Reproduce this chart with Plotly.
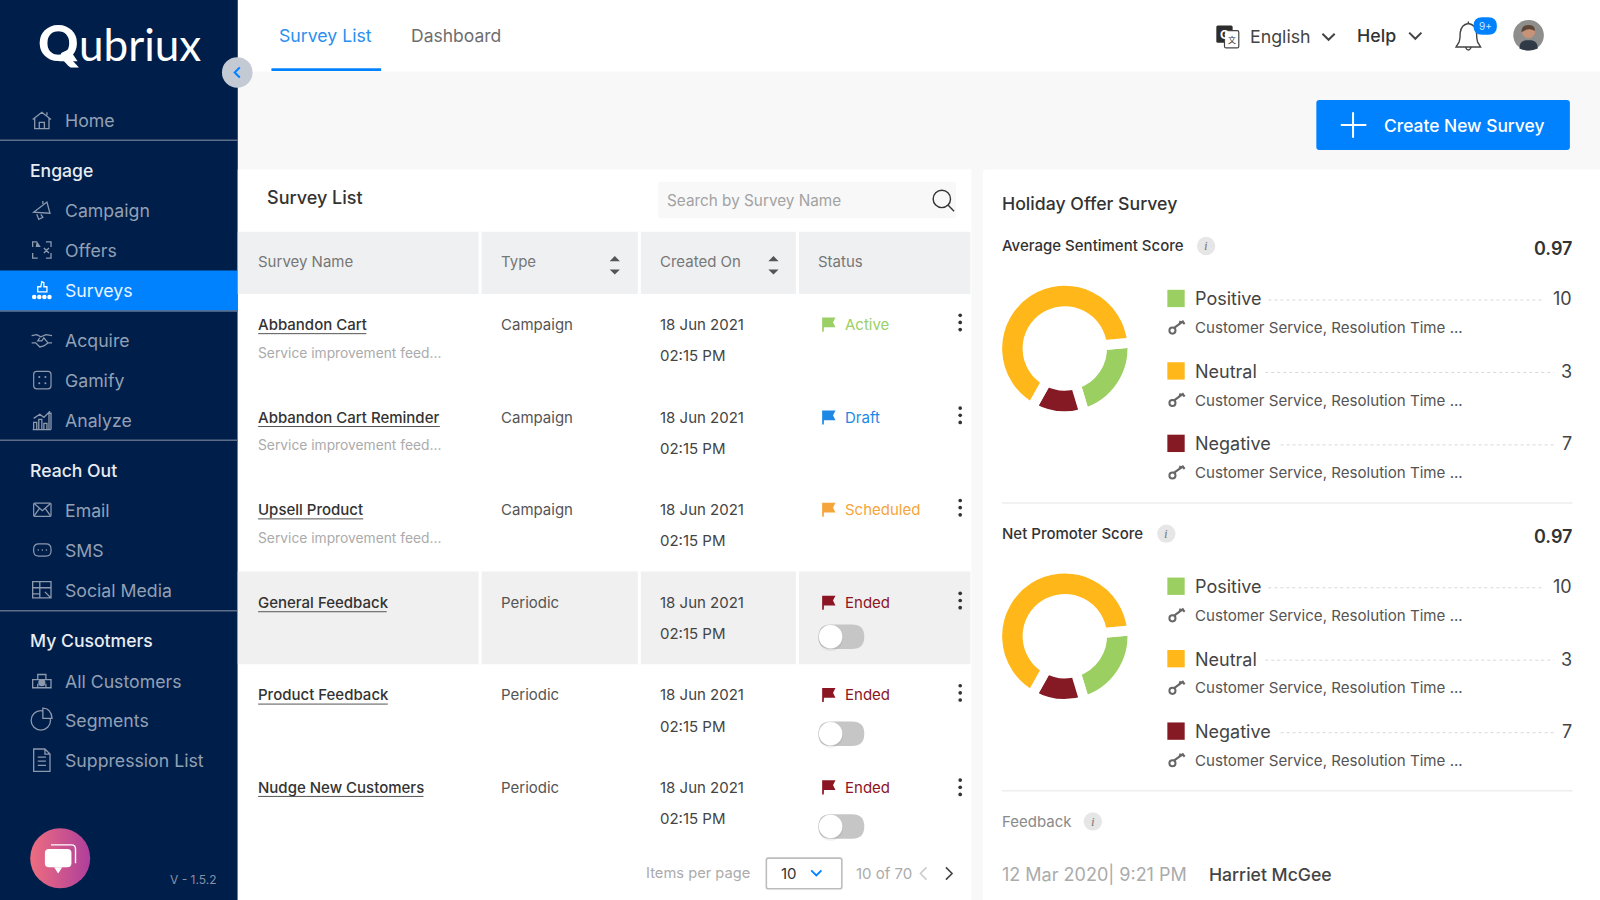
import re
import plotly.graph_objects as go

# ---------- content ----------
survey_names = ["Abbandon Cart", "Abbandon Cart Reminder", "Upsell Product", "General Feedback", "Product Feedback", "Nudge New Customers"]
survey_types = ["Campaign", "Campaign", "Campaign", "Periodic", "Periodic", "Periodic"]
survey_status = ["Active", "Draft", "Scheduled", "Ended", "Ended", "Ended"]
survey_dates = ["18 Jun 2021"] * 6
survey_times = ["02:15 PM"] * 6
sentiment_labels = ["Positive", "Neutral", "Negative"]
legend_counts = [10, 3, 7]
# slice shares as drawn in the two rings
sentiment_shares = [21.7, 65.5, 12.8]
promoter_shares = [21.7, 65.5, 12.8]
slice_colors = ["#9CCF62", "#FFB71A", "#861A24"]

FONT = "Inter"
NAVY = "#001E4A"
BLUE = "#0082FF"
shapes, notes = [], []


def t(x, y, s, size=15, color="#444", anchor="left", weight=400, font=FONT, italic=False):
    notes.append(dict(x=x, y=y, xref="x", yref="y", text=s, showarrow=False, xanchor=anchor, yanchor="middle",
                      align=anchor, font=dict(family=font, size=size, color=color, weight=weight,
                                              style="italic" if italic else "normal"),
                      borderpad=0, borderwidth=0))


def rect(x0, y0, x1, y1, fill, layer="below"):
    shapes.append(dict(type="rect", xref="x", yref="y", x0=x0, y0=y0, x1=x1, y1=y1, fillcolor=fill,
                       line=dict(width=0), layer=layer))


def line(x0, y0, x1, y1, color, width=1, dash="solid", layer="below"):
    shapes.append(dict(type="line", xref="x", yref="y", x0=x0, y0=y0, x1=x1, y1=y1,
                       line=dict(color=color, width=width, dash=dash), layer=layer))


def circle(cx, cy, r, fill, stroke=None, width=0, layer="below"):
    shapes.append(dict(type="circle", xref="x", yref="y", x0=cx - r, y0=cy - r, x1=cx + r, y1=cy + r, fillcolor=fill,
                       line=dict(width=width, color=stroke or fill), layer=layer))


def shifted(x, y, d, k=1.0):
    out, i = [], 0
    for tok in re.findall(r"[A-Za-z]|-?\d*\.?\d+", d):
        if tok.isalpha():
            out.append(tok)
        else:
            out.append(f"{(x if i % 2 == 0 else y) + float(tok) * k:.2f}")
            i += 1
    return " ".join(out)


def path(x, y, d, stroke=None, width=1.3, fill=None, k=1.0, layer="below"):
    shapes.append(dict(type="path", xref="x", yref="y", path=shifted(x, y, d, k),
                       fillcolor=fill or "rgba(0,0,0,0)",
                       line=dict(color=stroke or "rgba(0,0,0,0)", width=width if stroke else 0), layer=layer))


def rrect(x0, y0, x1, y1, r, fill=None, stroke=None, width=1, layer="below"):
    d = (f"M{x0 + r} {y0} L{x1 - r} {y0} Q{x1} {y0} {x1} {y0 + r} L{x1} {y1 - r} Q{x1} {y1} {x1 - r} {y1} "
         f"L{x0 + r} {y1} Q{x0} {y1} {x0} {y1 - r} L{x0} {y0 + r} Q{x0} {y0} {x0 + r} {y0} Z")
    shapes.append(dict(type="path", xref="x", yref="y", path=d, fillcolor=fill or "rgba(0,0,0,0)",
                       line=dict(color=stroke or "rgba(0,0,0,0)", width=width if stroke else 0), layer=layer))


# ---------- page frame ----------
rect(233, 0, 1568, 882, "#F8F8F8")
rect(233, 0, 1568, 70, "#FFFFFF")
rect(0, 0, 233, 882, NAVY)
rect(233, 166, 952, 882, "#FFFFFF")
rrect(963, 166, 1580, 900, 4, fill="#FFFFFF")

# ---------- sidebar ----------
t(77, 43.5, "ubriux", 44, "#FFFFFF", weight=400, font="Lato")
t(37, 41.5, "Q", 50, "#FFFFFF", weight=900, font="Lato")
path(60, 52, "M0 0 L8 -4 L16 8 L-2 8 Z", None, fill="#FFFFFF")
rect(0, 265, 233, 305, BLUE)
for yy in (137.5, 304.8, 431.5, 598.5):
    line(0, yy, 233, yy, "#5F6E87", 1.4)
MENU = "#93A0B4"
side_items = [("Home", 118), ("Campaign", 206), ("Offers", 245), ("Acquire", 333), ("Gamify", 372), ("Analyze", 412),
              ("Email", 500), ("SMS", 539), ("Social Media", 578), ("All Customers", 667), ("Segments", 706),
              ("Suppression List", 745)]
for name, yy in side_items:
    t(64, yy + 0.5, name, 17.7, MENU)
t(64, 285, "Surveys", 17.7, "#EAF4FF")
for name, yy in (("Engage", 167), ("Reach Out", 461), ("My Cusotmers", 627.5)):
    t(29.5, yy + 0.5, name, 17.6, "#E9ECF1", weight=500)
t(212, 861.5, "V - 1.5.2", 12, "#8592A6", anchor="right")

I = "#8D99AD"
path(41, 118, "M-9 -1 L0 -8 L9 -1 M-7 -2 L-7 8 L7 8 L7 -2 M-2.5 8 L-2.5 2 L2.5 2 L2.5 8 M5 -5 L5 -8", I)
path(41, 206, "M-8 2 L5 -8 L8 3 Z M-5 4 L-3 9 L1 7 L-1 4 M1 -9 L1 -6", I)
path(41, 245, "M-9 -3 L-9 -8 L-5 -8 M4 -8 L9 -8 L9 -3 M-9 3 L-9 8 L-4 8 M4 8 L9 8 L9 3 M2 -2 L7 3 M2 3 L7 -2", I)
path(41, 245, "M-5 -9 L-3 -6 L-1 -3 L-6 -3 Z", None, fill=I)
path(41, 284, "M-4 2 L-4 -3 L-1 -3 L0 -8 L2 -7 L2 -3 L5 -3 L5 2 Z", "#FFFFFF", 1.3)
for dx in (-7.5, -2.5, 2.5, 7.5):
    circle(41 + dx, 291, 2.2, "#FFFFFF")
path(41, 333, "M-10 -4 L-5 -5 L-1 -3 L4 -5 L10 -4 M-10 3 L-6 3 L-2 7 L2 6 L6 3 L10 3 M-2 -2 L-4 1 L0 1 L2 -2 L6 3", I)
rrect(33, 364, 50, 381, 3, stroke=I, width=1.2)
for dx, dy in ((-3, -3), (3, 3), (3, -3), (-3, 3)):
    circle(41.5 + dx, 372.5 + dy, 1, I)
path(41, 412, "M-9 9 L9 9 M-8 9 L-8 2 L-5 2 L-5 9 M-3 9 L-3 -1 L0 -1 L0 9 M2 9 L2 3 L5 3 L5 9 M7 9 L7 -7 L9 -7 L9 9 M-8 -2 L-2 -6 L2 -3 L8 -9", I)
rrect(33, 493, 50, 506, 1, stroke=I, width=1.2)
path(41.5, 499.5, "M-8 -6 L0 1 L8 -6 M-8 6 L-3 -1 M8 6 L3 -1", I)
rrect(33, 533, 50, 545, 5, stroke=I, width=1.2)
for dx in (-4, 0, 4):
    circle(41.5 + dx, 539, 0.8, I)
path(41, 578, "M-9 -8 L9 -8 L9 8 L-9 8 Z M-9 -2 L9 -2 M-2 -8 L-2 8 M3 2 L9 8 M-9 4 L-2 4", I)
path(41, 667, "M-9 7 L-9 -1 L-4 -1 L-4 -6 L4 -6 L4 -1 L9 -1 L9 7 Z M-4 -1 L4 -1 M-4 3 L-4 7 M4 3 L4 7", I)
circle(41, 669, 3.5, I)
circle(40, 706, 9.5, "rgba(0,0,0,0)", I, 1.3)
path(42, 704, "M0 0 L0 -10 Q8 -10 9 0 Z", I, fill=NAVY)
path(41, 745, "M-8 -11 L3 -11 L8 -6 L8 11 L-8 11 Z M3 -11 L3 -6 L8 -6 M-4 -3 L4 -3 M-4 1 L4 1 M-4 5 L4 5", I)

# collapse button
circle(232.5, 71, 15, "#C3CAD4")
path(232.5, 71, "M2.5 -5 L-2.5 0 L2.5 5", BLUE, 2)

# chat button bubble
path(0, 0, "M50 828 L70 828 Q74 828 74 832 L74 846", "#FFFFFF", 1.4, layer="above")
rrect(44, 832, 70, 850, 4, fill="#FFFFFF", layer="above")
path(57, 850, "M-4 0 L4 0 L0 6 Z", None, fill="#FFFFFF", layer="above")

# ---------- top bar ----------
t(273, 34.5, "Survey List", 17.7, "#2A90F0")
t(403, 34.5, "Dashboard", 17.5, "#6E6E6E")
rect(266, 67, 373.5, 69.5, BLUE)
rrect(1192, 25, 1208, 42, 1.5, fill="#2D2D2D")
rrect(1200, 30, 1214, 47, 1.5, fill="#FFFFFF", stroke="#444", width=1.2)
t(1200, 33.5, "G", 12, "#FFFFFF", anchor="center", weight=700)
t(1207.5, 39, "文", 8, "#333", anchor="center", font="Noto Sans CJK SC")
t(1225, 36, "English", 17.8, "#444")
path(1302, 36, "M-6 -3 L0 3 L6 -3", "#444", 2)
t(1330, 34.5, "Help", 17.8, "#333", weight=500)
path(1387, 35, "M-6 -3 L0 3 L6 -3", "#444", 2)
path(1439, 35, "M-12 11 L-9 6 Q-8 3 -8 -3 Q-7 -11 0 -12 Q7 -11 8 -3 Q8 3 9 6 L12 11 Z M-3 11 Q0 17 3 11 M0 -12 L0 -14", "#444", 1.4)
rrect(1444, 17, 1467, 34, 8.5, fill=BLUE)
t(1455.5, 25, "9+", 10, "#CFE6FF", anchor="center")
circle(1498, 34.5, 15, "#8E8E8C")
circle(1498, 31, 6.5, "#C69378")
path(1498, 34.5, "M-7 -3 Q-7 -10 0 -10 Q7 -10 6 -4 Q1 -8 -7 -3 Z", None, fill="#5C4638")
path(1498, 34.5, "M-9 13 Q-9 6 -3 5 L3 5 Q9 6 9 13 Q0 17 -9 13 Z", None, fill="#2F3A46")

# create button
rrect(1290, 98, 1538.5, 147, 3, fill=BLUE)
line(1326, 110, 1326, 135, "#FFFFFF", 2)
line(1314, 122.5, 1339, 122.5, "#FFFFFF", 2)
t(1356, 123, "Create New Survey", 17.4, "#FFFFFF", weight=500)

# ---------- survey table ----------
t(262, 194, "Survey List", 18, "#333", weight=500)
rrect(645, 178, 937, 214, 3, fill="#F8F8F8")
t(654, 196, "Search by Survey Name", 15.3, "#A2A2A2")
circle(923, 195, 8.5, "rgba(0,0,0,0)", "#333", 1.4)
line(929, 201, 935, 207, "#333", 1.4)

columns = [(233, 469), (472, 625), (628, 780), (783, 951)]
for x0, x1 in columns:
    rect(x0, 227, x1, 288, "#EFF0F1")
    rect(x0, 560, x1, 651, "#F0F0F0")
for x, s in ((252.5, "Survey Name"), (491, "Type"), (646.5, "Created On"), (802, "Status")):
    t(x, 256, s, 15, "#777")
for x in (602.5, 758):
    path(x, 260, "M-5 -4 L0 -9 L5 -4 Z M-5 4 L0 9 L5 4 Z", None, fill="#555")

status_colors = {"Active": "#9BD066", "Draft": "#1E88E5", "Scheduled": "#F5A53A", "Ended": "#8C1523"}
row_y = [318, 409, 499.5, 590.5, 681, 771.5]
name_w = [106, 178, 103, 126, 127, 162]
toggle_y = [None, None, None, 624, 719, 810]
for i, y in enumerate(row_y):
    t(252.5, y, survey_names[i], 15, "#333", weight=500)
    line(253, y + 9, 253 + name_w[i], y + 9, "#555", 1)
    if i < 3:
        t(252.5, y + 27.5, "Service improvement feed...", 13.8, "#ABABAB")
    t(491, y, survey_types[i], 15, "#555")
    t(646.5, y, survey_dates[i], 15, "#444")
    t(646.5, y + 30.5, survey_times[i], 15, "#444")
    c = status_colors[survey_status[i]]
    path(806.5, y, "M0 7 L0 -6 L11 -6 L9 -2 L11 2 L1 2", c, 1.6, fill=c)
    t(828, y, survey_status[i], 15, c)
    for d in (-7, 0, 7):
        circle(941, y - 2 + (0 if i != 5 else 2) + d, 1.8, "#333")
    if toggle_y[i]:
        ty = toggle_y[i]
        rrect(802, ty - 12, 847, ty + 12, 12, fill="#C6C6C6")
        circle(814, ty + 2, 12, "rgba(0,0,0,0.06)")
        circle(814, ty, 11.5, "#FFFFFF")

t(633, 856, "Items per page", 14.7, "#ABABAB")
rrect(751, 841, 825, 871, 2, fill="#FFFFFF", stroke="#BDBDBD", width=1.6)
t(765, 856, "10", 15, "#333")
path(800, 856, "M-5 -3 L0 2 L5 -3", BLUE, 1.8)
t(839, 856, "10 of 70", 15, "#ABABAB")
path(905, 856, "M3 -6 L-3 0 L3 6", "#CCCCCC", 1.6)
path(930, 856, "M-3 -6 L3 0 L-3 6", "#444", 1.6)


# ---------- right panel ----------
def info(x, y):
    circle(x, y, 9, "#E6E6E6")
    t(x, y, "i", 13, "#777", anchor="center", italic=True, font="Liberation Serif")


t(982, 199, "Holiday Offer Survey", 17.7, "#333", weight=500)
key_text = "Customer Service, Resolution Time ..."
dot_ranges = [(1243, 1512), (1240, 1523), (1255, 1523)]


def score_block(y0, title, info_x):
    t(982, y0, title, 15, "#333", weight=500)
    info(info_x, y0)
    t(1541, y0 + 3, "0.97", 18, "#333", anchor="right", weight=600)
    for j, lab in enumerate(sentiment_labels):
        ly = y0 + 52 + 71 * j
        rect(1144, ly - 9, 1161, ly + 8, slice_colors[j])
        t(1171, ly, lab, 18, "#444")
        line(dot_ranges[j][0], ly + 1, dot_ranges[j][1], ly + 1, "#D8D8D8", 1, "dot")
        t(1541, ly, str(legend_counts[j]), 18, "#444", anchor="right")
        path(1154, ly + 27.5, "M-5 2 L6 -6 M2 -3 L3 -6 M5 -5 L7 -3", "#666", 2.2)
        circle(1149, ly + 31, 3, "#FFFFFF", "#666", 2)
        t(1171, ly + 28, key_text, 15.1, "#555")


score_block(241, "Average Sentiment Score", 1182)
line(982, 493, 1541, 493, "#EEEEEE", 1.4)
score_block(523, "Net Promoter Score", 1143)
line(982, 775, 1541, 775, "#EEEEEE", 1.4)
t(982, 805, "Feedback", 15, "#8A8A8A")
info(1071, 805)
t(982, 857, "12 Mar 2020| 9:21 PM", 18, "#ABABAB")
t(1185, 857, "Harriet McGee", 17.6, "#444", weight=500)

# ---------- traces ----------
fig = go.Figure()
fig.add_trace(go.Scatter(x=[59], y=[841], mode="markers", showlegend=False, hoverinfo="skip",
                         marker=dict(size=60, color="#EE6D7F", gradient=dict(type="horizontal", color="#AE3F9B"))))

ring_order = [0, 2, 1]  # clockwise from the right: Positive, Negative, Neutral


def ring(values, cy):
    cx, R = 1043.5, 66.3
    fig.add_trace(go.Pie(values=[values[i] for i in ring_order], labels=[sentiment_labels[i] for i in ring_order],
                         sort=False, direction="clockwise", rotation=85, hole=0.55, textinfo="none",
                         hoverinfo="skip", showlegend=False,
                         marker=dict(colors=[slice_colors[i] for i in ring_order],
                                     line=dict(color="#FFFFFF", width=10)),
                         domain=dict(x=[(cx - R) / 1568, (cx + R) / 1568],
                                     y=[1 - (cy + R) / 882, 1 - (cy - R) / 882])))


ring(sentiment_shares, 341.5)
ring(promoter_shares, 623.5)

fig.update_layout(width=1600, height=900, margin=dict(l=0, r=0, t=0, b=0), paper_bgcolor="#FFFFFF",
                  plot_bgcolor="rgba(0,0,0,0)", showlegend=False, hovermode=False,
                  xaxis=dict(range=[0, 1568], visible=False, fixedrange=True),
                  yaxis=dict(range=[882, 0], visible=False, fixedrange=True),
                  shapes=shapes, annotations=notes)
fig.write_html("out.html", config=dict(displayModeBar=False),
               post_script="document.body.style.margin='0';document.documentElement.style.overflow='hidden';")
